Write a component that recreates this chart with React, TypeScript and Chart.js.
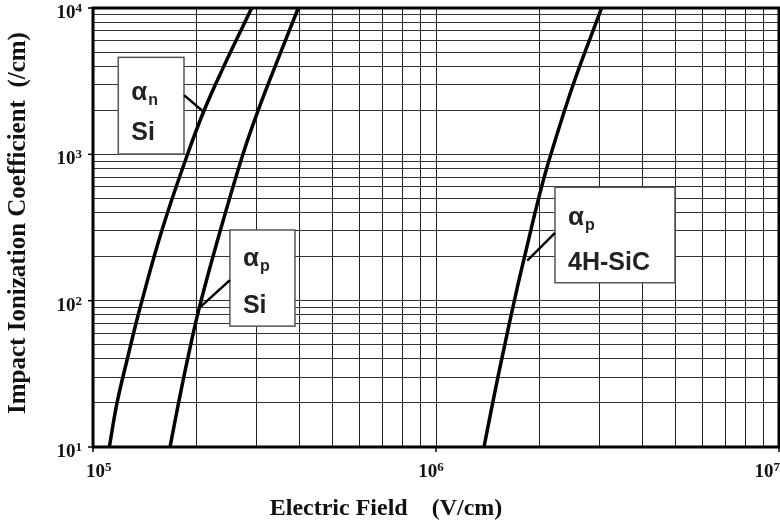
import React, { useEffect, useRef } from 'react';
import { Chart, registerables } from 'chart.js';

Chart.register(...registerables);

// ---- data (E in V/cm, alpha in /cm) ----
const fieldAlphaNSi = [1.116e5, 1.175e5, 1.256e5, 1.371e5, 1.589e5, 1.883e5, 2.111e5, 2.404e5, 2.902e5];
const alphaNSi = [10, 20, 39, 89, 304, 990, 2010, 3975, 10000];

const fieldAlphaPSi = [1.677e5, 1.776e5, 1.883e5, 2.04e5, 2.353e5, 2.732e5, 3.034e5, 3.394e5, 3.967e5];
const alphaPSi = [10, 20, 39, 89, 304, 990, 2010, 3975, 10000];

const fieldAlphaPSiC = [1.38e6, 1.486e6, 1.565e6, 1.719e6, 1.83e6, 1.974e6, 2.111e6, 2.512e6, 3.04e6];
const alphaPSiC = [10, 24, 43, 118, 220, 460, 830, 3000, 10000];

const xTickExponents = [5, 6, 7];
const yTickExponents = [1, 2, 3, 4];
const xAxisTitle = 'Electric Field    (V/cm)';
const yAxisTitle = 'Impact Ionization Coefficient  (/cm)';

// annotation boxes: [xMin, xMax, yTop, yBottom] in data units, pointer from/to in data units
const annotations = [
  { sub: 'n', label: 'Si', box: [1.185e5, 1.842e5, 4600, 1005], from: [1.842e5, 2540], to: [2.1e5, 1955], alphaDy: 43, labelDy: 83 },
  { sub: 'p', label: 'Si', box: [2.507e5, 3.88e5, 304, 67], from: [2.507e5, 138], to: [2.05e5, 90], alphaDy: 36, labelDy: 83 },
  { sub: 'p', label: '4H-SiC', box: [2.223e6, 4.975e6, 595, 132.6], from: [2.223e6, 291], to: [1.845e6, 187.6], alphaDy: 38, labelDy: 83 },
];

function decadeGrid(minExp: number, maxExp: number): number[] {
  const out: number[] = [];
  for (let e = minExp; e < maxExp; e++) {
    for (let m = 1; m <= 9; m++) out.push(m * Math.pow(10, e));
  }
  out.push(Math.pow(10, maxExp));
  return out;
}

const SERIF = '"Liberation Serif", "Times New Roman", serif';
const SANS = '"Liberation Sans", Arial, sans-serif';

function drawPower(ctx: CanvasRenderingContext2D, exp: number, x: number, baseline: number, align: 'left' | 'right' | 'center', maxRight?: number, minLeft?: number) {
  ctx.font = `bold 19px ${SERIF}`;
  const wBase = ctx.measureText('10').width;
  ctx.font = `bold 13px ${SERIF}`;
  const wExp = ctx.measureText(String(exp)).width;
  const total = wBase + wExp;
  let left = align === 'left' ? x : align === 'right' ? x - total : x - total / 2;
  if (maxRight !== undefined && left + total > maxRight) left = maxRight - total;
  if (minLeft !== undefined && left < minLeft) left = minLeft;
  ctx.textAlign = 'left';
  ctx.textBaseline = 'alphabetic';
  ctx.fillStyle = '#111';
  ctx.font = `bold 19px ${SERIF}`;
  ctx.fillText('10', left, baseline);
  ctx.font = `bold 13px ${SERIF}`;
  ctx.fillText(String(exp), left + wBase, baseline - 6);
}

const overlayPlugin = {
  id: 'overlay',
  afterDraw(chart: any) {
    const ctx: CanvasRenderingContext2D = chart.ctx;
    const { left, right, top, bottom } = chart.chartArea;
    const xs = chart.scales.x;
    const ys = chart.scales.y;
    ctx.save();

    // annotations
    annotations.forEach((a) => {
      const bx1 = xs.getPixelForValue(a.box[0]);
      const bx2 = xs.getPixelForValue(a.box[1]);
      const by1 = ys.getPixelForValue(a.box[2]);
      const by2 = ys.getPixelForValue(a.box[3]);
      ctx.fillStyle = '#fff';
      ctx.fillRect(bx1, by1, bx2 - bx1, by2 - by1);
      ctx.strokeStyle = '#555';
      ctx.lineWidth = 1.5;
      ctx.strokeRect(bx1, by1, bx2 - bx1, by2 - by1);

      ctx.strokeStyle = '#000';
      ctx.lineWidth = 2.5;
      ctx.beginPath();
      ctx.moveTo(xs.getPixelForValue(a.from[0]), ys.getPixelForValue(a.from[1]));
      ctx.lineTo(xs.getPixelForValue(a.to[0]), ys.getPixelForValue(a.to[1]));
      ctx.stroke();

      ctx.fillStyle = '#222';
      ctx.textAlign = 'left';
      ctx.textBaseline = 'alphabetic';
      ctx.font = `bold 26px ${SANS}`;
      const tx = bx1 + 13;
      ctx.fillText('\u03B1', tx, by1 + a.alphaDy);
      const wa = ctx.measureText('\u03B1').width;
      ctx.font = `bold 16px ${SANS}`;
      ctx.fillText(a.sub, tx + wa + 1, by1 + a.alphaDy + 5);
      ctx.font = `bold 25px ${SANS}`;
      ctx.fillText(a.label, tx, by1 + a.labelDy);
    });

    // frame
    ctx.strokeStyle = '#000';
    ctx.lineWidth = 3;
    ctx.strokeRect(left, top, right - left, bottom - top);

    // major tick marks
    ctx.lineWidth = 1.5;
    xTickExponents.forEach((e) => {
      const px = xs.getPixelForValue(Math.pow(10, e));
      ctx.beginPath();
      ctx.moveTo(px, bottom);
      ctx.lineTo(px, bottom + 5);
      ctx.stroke();
    });
    yTickExponents.forEach((e) => {
      const py = ys.getPixelForValue(Math.pow(10, e));
      ctx.beginPath();
      ctx.moveTo(left - 5, py);
      ctx.lineTo(left, py);
      ctx.stroke();
    });

    // tick labels
    xTickExponents.forEach((e) => {
      const px = xs.getPixelForValue(Math.pow(10, e));
      drawPower(ctx, e, px - 5, bottom + 30, 'center', chart.width, left - 7);
    });
    yTickExponents.forEach((e) => {
      const py = ys.getPixelForValue(Math.pow(10, e));
      drawPower(ctx, e, left - 11, py + 10, 'right');
    });

    // axis titles
    ctx.fillStyle = '#111';
    ctx.font = `bold 24px ${SERIF}`;
    ctx.textAlign = 'center';
    ctx.textBaseline = 'alphabetic';
    ctx.fillText(xAxisTitle, 386, 515);

    ctx.save();
    ctx.font = `bold 25px ${SERIF}`;
    ctx.translate(25, 223);
    ctx.rotate(-Math.PI / 2);
    ctx.textBaseline = 'alphabetic';
    ctx.fillText(yAxisTitle, 0, 0);
    ctx.restore();

    ctx.restore();
  },
};

export default function App() {
  const canvasRef = useRef<HTMLCanvasElement | null>(null);

  useEffect(() => {
    const canvas = canvasRef.current;
    if (!canvas) return;
    const xGrid = decadeGrid(5, 7);
    const yGrid = decadeGrid(1, 4);
    const lineStyle = {
      borderColor: '#000',
      borderWidth: 3.5,
      pointRadius: 0,
      fill: false,
      tension: 0.4,
      borderJoinStyle: 'round' as const,
    };
    const chart = new Chart(canvas, {
      type: 'line',
      data: {
        datasets: [
          { label: 'alpha_n Si', data: fieldAlphaNSi.map((x, i) => ({ x, y: alphaNSi[i] })), ...lineStyle },
          { label: 'alpha_p Si', data: fieldAlphaPSi.map((x, i) => ({ x, y: alphaPSi[i] })), ...lineStyle },
          { label: 'alpha_p 4H-SiC', data: fieldAlphaPSiC.map((x, i) => ({ x, y: alphaPSiC[i] })), ...lineStyle },
        ],
      },
      options: {
        animation: false,
        responsive: false,
        devicePixelRatio: 1,
        layout: { padding: { left: 93, right: 1, top: 8, bottom: 75 } },
        plugins: { legend: { display: false }, tooltip: { enabled: false } },
        scales: {
          x: {
            type: 'logarithmic',
            min: 1e5,
            max: 1e7,
            afterBuildTicks: (s: any) => {
              s.ticks = xGrid.map((v) => ({ value: v }));
            },
            ticks: { display: false },
            grid: { color: '#222', lineWidth: 1, drawTicks: false },
            border: { display: false },
          },
          y: {
            type: 'logarithmic',
            min: 10,
            max: 1e4,
            afterBuildTicks: (s: any) => {
              s.ticks = yGrid.map((v) => ({ value: v }));
            },
            ticks: { display: false },
            grid: { color: '#333', lineWidth: 1, drawTicks: false },
            border: { display: false },
          },
        },
      },
      plugins: [overlayPlugin],
    } as any);
    return () => chart.destroy();
  }, []);

  return (
    <div style={{ position: 'absolute', left: 0, top: 0, width: 780, height: 522, background: '#fff' }}>
      <canvas ref={canvasRef} width={780} height={522} style={{ display: 'block', width: 780, height: 522 }} />
    </div>
  );
}
